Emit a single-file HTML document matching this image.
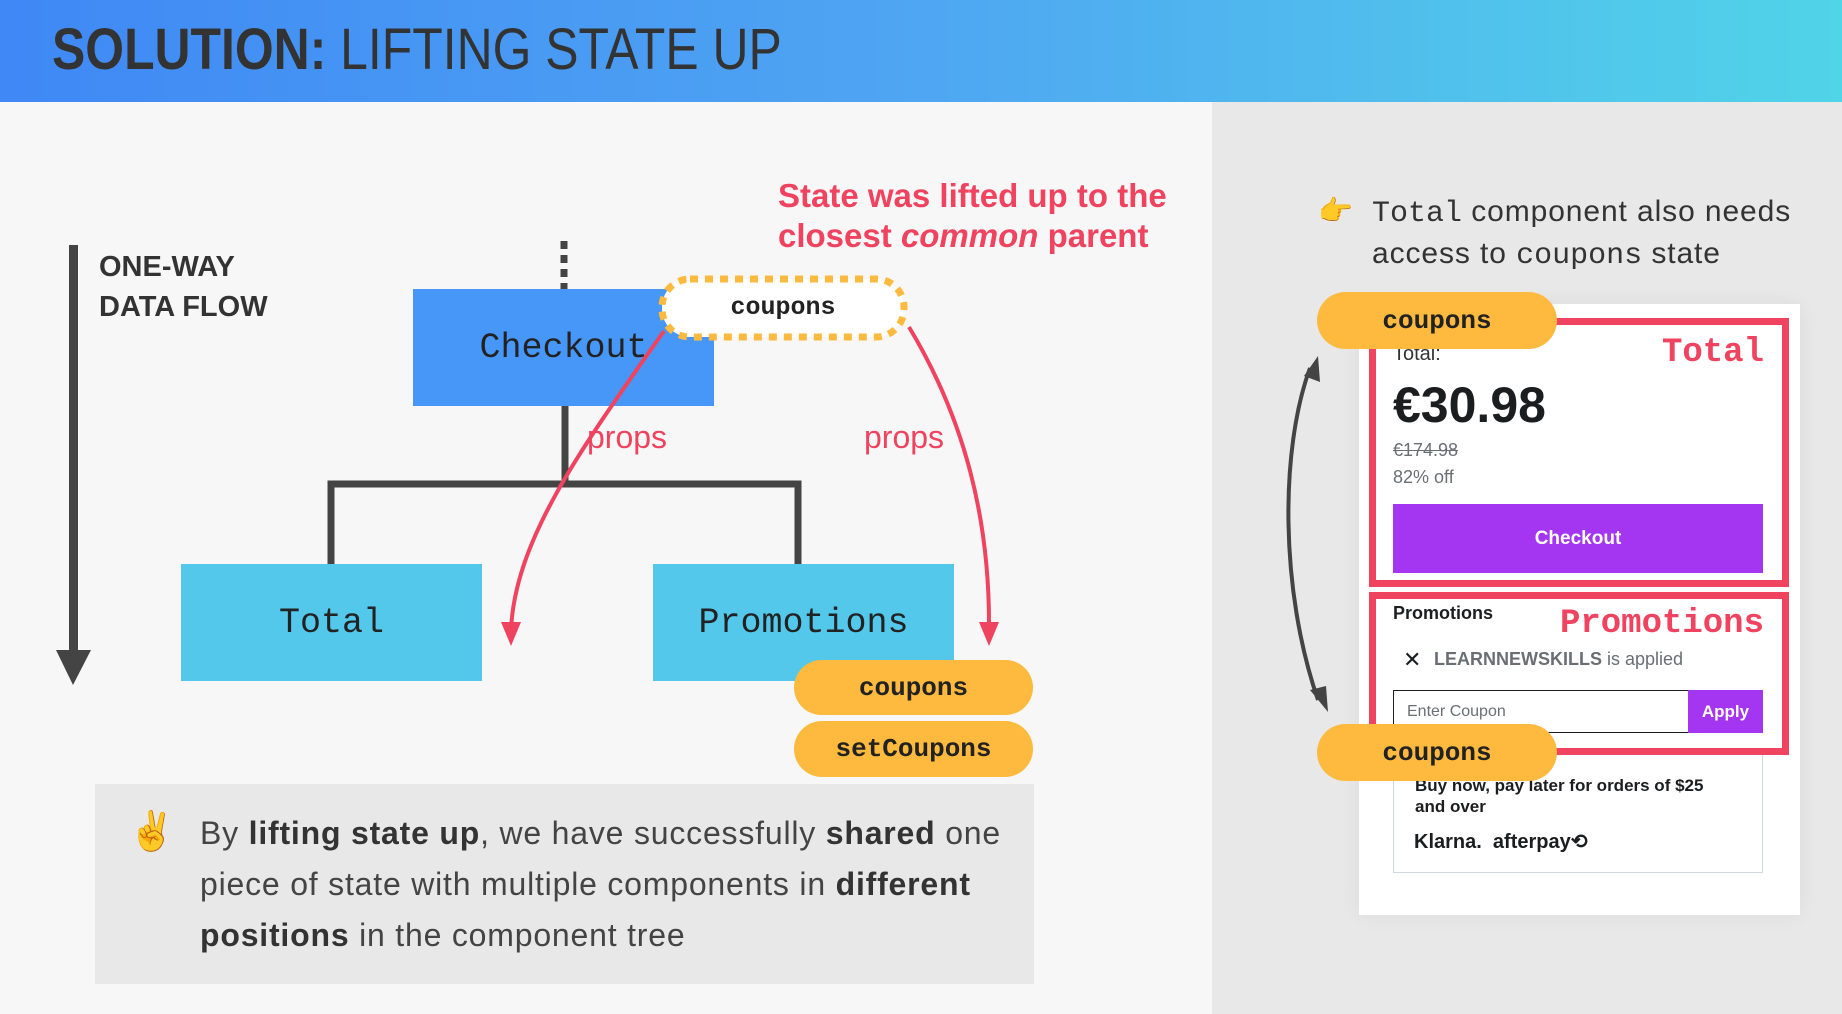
<!DOCTYPE html>
<html><head><meta charset="utf-8"><style>
*{margin:0;padding:0;box-sizing:border-box}
body{width:1842px;height:1014px;overflow:hidden;position:relative;font-family:"Liberation Sans",sans-serif;background:#f7f7f7}
.a{position:absolute}
.hdr{left:0;top:0;width:1842px;height:102px;background:linear-gradient(90deg,#3f88f5,#4fa6f2 50%,#50d4e8)}
.mono{font-family:"Liberation Mono","DejaVu Sans Mono",monospace}
.box{display:flex;align-items:center;justify-content:center;font-size:35px;color:#222}
.pill{background:#fdba3e;border-radius:30px;display:flex;align-items:center;justify-content:center;font-weight:bold;font-size:26px;color:#222}
.red{color:#f0435f}
.sq{display:inline-block;transform:scaleX(.86);transform-origin:left}
</style></head><body>
<div class="a hdr"></div>
<div class="a" style="left:52px;top:16px;font-size:58px;color:#333;white-space:nowrap"><span class="sq"><b>SOLUTION:</b> LIFTING STATE UP</span></div>
<div class="a" style="left:1212px;top:102px;width:630px;height:912px;background:#e8e8e8"></div>

<svg class="a" style="left:0;top:0" width="1842" height="1014">
<rect x="69" y="245" width="9" height="410" fill="#444"/>
<path d="M56,650 L91,650 L73,685z" fill="#444"/>
<line x1="564" y1="241" x2="564" y2="290" stroke="#444" stroke-width="7" stroke-dasharray="8,6"/>
<path d="M565,406 V484 M331,564 V484 H798 V564" fill="none" stroke="#444" stroke-width="7"/>
<path d="M1310,368 C1280,450 1280,590 1318,700" fill="none" stroke="#444" stroke-width="4"/>
<path d="M1304,376 L1318,356 L1320,382z" fill="#444"/>
<path d="M1310,690 L1328,712 L1326,686z" fill="#444"/>
</svg>

<div class="a box mono" style="left:413px;top:289px;width:301px;height:117px;background:#4797f8">Checkout</div>
<div class="a box mono" style="left:181px;top:564px;width:301px;height:117px;background:#53c8eb">Total</div>
<div class="a box mono" style="left:653px;top:564px;width:301px;height:117px;background:#53c8eb">Promotions</div>
<svg class="a" style="left:658px;top:275px" width="250" height="66">
<rect x="4" y="4" width="242" height="58" rx="28" fill="#fff" stroke="#fdba3e" stroke-width="7" stroke-dasharray="8,7"/>
</svg>
<div class="a mono" style="left:661px;top:278px;width:244px;height:59px;display:flex;align-items:center;justify-content:center;font-weight:bold;font-size:25px;color:#222">coupons</div>

<svg class="a" style="left:0;top:0" width="1842" height="1014">
<path d="M664,331 C580,450 515,540 511,630" fill="none" stroke="#f0435f" stroke-width="4"/>
<path d="M501,622 L521,622 L511,646z" fill="#f0435f"/>
<path d="M909,327 C965,420 990,520 989,630" fill="none" stroke="#f0435f" stroke-width="4"/>
<path d="M979,622 L999,622 L989,646z" fill="#f0435f"/>
</svg>

<div class="a red" style="left:587px;top:419px;font-size:32px">props</div>
<div class="a red" style="left:864px;top:419px;font-size:32px">props</div>
<div class="a red" style="left:778px;top:176px;font-size:33px;font-weight:bold;line-height:40px;white-space:nowrap">State was lifted up to the<br>closest <i>common</i> parent</div>
<div class="a" style="left:99px;top:247px;font-size:29px;font-weight:bold;color:#333;line-height:40px">ONE-WAY<br>DATA FLOW</div>

<div class="a pill mono" style="left:794px;top:660px;width:239px;height:55px">coupons</div>
<div class="a pill mono" style="left:794px;top:721px;width:239px;height:56px">setCoupons</div>

<div class="a" style="left:95px;top:784px;width:939px;height:200px;background:#e8e8e8"></div>
<div class="a" style="left:128px;top:810px;font-size:38px">✌️</div>
<div class="a" style="left:200px;top:808px;font-size:32px;letter-spacing:0.8px;line-height:51px;color:#444;white-space:nowrap">By <b style="color:#333">lifting state up</b>, we have successfully <b style="color:#333">shared</b> one<br>piece of state with multiple components in <b style="color:#333">different</b><br><b style="color:#333">positions</b> in the component tree</div>

<div class="a" style="left:1318px;top:194px;font-size:28px">👉</div>
<div class="a" style="left:1372px;top:192px;font-size:30px;letter-spacing:0.9px;line-height:39px;color:#333;white-space:nowrap"><span class="mono" style="letter-spacing:0">Total</span> component also needs<br>access to <span class="mono" style="letter-spacing:0">coupons</span> state</div>

<div class="a" style="left:1359px;top:304px;width:441px;height:611px;background:#fff;box-shadow:0 0 20px rgba(0,0,0,.06)"></div>
<div class="a" style="left:1369px;top:318px;width:420px;height:269px;border:7px solid #f0435f"></div>
<div class="a" style="left:1369px;top:592px;width:420px;height:163px;border:7px solid #f0435f"></div>
<div class="a" style="left:1393px;top:343px;font-size:20px;color:#333">Total:</div>
<div class="a mono red" style="right:78px;top:334px;font-size:34px;font-weight:bold">Total</div>
<div class="a" style="left:1393px;top:376px;font-size:50px;font-weight:bold;color:#1c1d1f">€30.98</div>
<div class="a" style="left:1393px;top:440px;font-size:18px;color:#6a6f73;text-decoration:line-through">€174.98</div>
<div class="a" style="left:1393px;top:467px;font-size:18px;color:#6a6f73">82% off</div>
<div class="a" style="left:1393px;top:504px;width:370px;height:69px;background:#a435f0;color:#fff;font-weight:bold;font-size:19px;display:flex;align-items:center;justify-content:center">Checkout</div>
<div class="a" style="left:1393px;top:603px;font-size:18px;font-weight:bold;color:#1c1d1f">Promotions</div>
<div class="a mono red" style="right:78px;top:605px;font-size:34px;font-weight:bold">Promotions</div>
<div class="a" style="left:1403px;top:647px;font-size:22px;color:#1c1d1f">✕</div>
<div class="a" style="left:1434px;top:649px;font-size:18px;color:#6a6f73"><b>LEARNNEWSKILLS</b> is applied</div>
<div class="a" style="left:1393px;top:690px;width:296px;height:43px;border:1px solid #1c1d1f;font-size:16px;color:#6a6f73;padding:12px 0 0 13px">Enter Coupon</div>
<div class="a" style="left:1688px;top:690px;width:75px;height:43px;background:#a435f0;color:#fff;font-weight:bold;font-size:17px;display:flex;align-items:center;justify-content:center">Apply</div>
<div class="a" style="left:1393px;top:755px;width:370px;height:118px;border:1px solid #d1d7dc;border-top:none"></div>
<div class="a" style="left:1415px;top:775px;font-size:17px;font-weight:bold;color:#1c1d1f;line-height:21px">Buy now, pay later for orders of $25<br>and over</div>
<div class="a" style="left:1414px;top:829px;font-size:20px;font-weight:bold;color:#1c1d1f">Klarna.&nbsp; afterpay⟲</div>

<div class="a pill mono" style="left:1317px;top:292px;width:240px;height:57px">coupons</div>
<div class="a pill mono" style="left:1317px;top:724px;width:240px;height:57px">coupons</div>
</body></html>
